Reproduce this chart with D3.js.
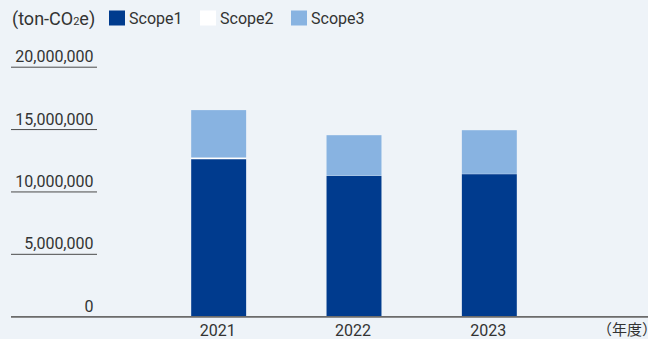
<!DOCTYPE html>
<html>
<head>
<meta charset="utf-8">
<script src="https://cdn.jsdelivr.net/npm/d3@7"></script>
<style>
  html, body { margin: 0; padding: 0; background: #eef3f8; }
  svg { display: block; }
  text { font-family: Roboto, "Noto Sans", sans-serif; fill: #333; }
</style>
</head>
<body>
<svg id="chart" width="648" height="339"></svg>
<script>
// Emissions by scope (ton-CO2e)
const years = ["2021", "2022", "2023"];
const scope1 = [12630000, 11290000, 11430000];
const scope2 = [130000, 20000, 20000];
const scope3 = [3800000, 3240000, 3500000];
const seriesNames = ["Scope1", "Scope2", "Scope3"];
const seriesColors = ["#003b8e", "#ffffff", "#88b3e1"];
const yTicks = [0, 5000000, 10000000, 15000000, 20000000];
const unitLabel = "(ton-CO";
const xUnitLabel = "（年度）";

const svg = d3.select("#chart");
const W = 648, H = 339;

const rows = years.map((y, i) => ({ year: y, Scope1: scope1[i], Scope2: scope2[i], Scope3: scope3[i] }));
const stacked = d3.stack().keys(seriesNames)(rows);

const x = d3.scaleBand().domain(years).range([151, 557]).paddingInner(0.594).paddingOuter(0.297);
const y = d3.scaleLinear().domain([0, 20000000]).range([316.7, 67.2]);
const color = d3.scaleOrdinal().domain(seriesNames).range(seriesColors);
const fmt = d3.format(",");

// Value axis: short rules with labels sitting above them
const grid = svg.append("g");
yTicks.forEach(t => {
  grid.append("line")
    .attr("x1", 11).attr("x2", t === 0 ? W : 97)
    .attr("y1", y(t)).attr("y2", y(t))
    .attr("stroke", t === 0 ? "#6b6b6b" : "#4a4a4a")
    .attr("stroke-width", t === 0 ? 1.5 : 1);
  grid.append("text")
    .attr("x", 93.5).attr("y", y(t) - 5)
    .attr("text-anchor", "end")
    .attr("font-size", 16)
    .text(fmt(t));
});

// Stacked bars
svg.append("g").selectAll("g").data(stacked).join("g")
  .attr("fill", d => color(d.key))
  .selectAll("rect").data(d => d).join("rect")
  .attr("x", d => x(d.data.year))
  .attr("width", x.bandwidth())
  .attr("y", d => y(d[1]))
  .attr("height", d => y(d[0]) - y(d[1]));

// Redraw baseline over the bars
svg.append("line")
  .attr("x1", 11).attr("x2", W)
  .attr("y1", y(0)).attr("y2", y(0))
  .attr("stroke", "#6b6b6b").attr("stroke-width", 1.5);

// Category labels
svg.append("g").selectAll("text").data(years).join("text")
  .attr("x", d => x(d) + x.bandwidth() / 2 - 1)
  .attr("y", 336)
  .attr("text-anchor", "middle")
  .attr("font-size", 16)
  .text(d => d);

svg.append("text")
  .attr("x", 597).attr("y", 335)
  .attr("font-size", 15)
  .style("font-family", "'Noto Sans CJK JP', sans-serif")
  .text(xUnitLabel);

// Unit label and legend
const unit = svg.append("text").attr("x", 12).attr("y", 25).attr("font-size", 18);
unit.append("tspan").text(unitLabel);
unit.append("tspan").attr("font-size", 11).text("2");
unit.append("tspan").text("e)");

const legendX = [109, 200, 291];
const legend = svg.append("g").selectAll("g").data(seriesNames).join("g")
  .attr("transform", (d, i) => `translate(${legendX[i]},0)`);
legend.append("rect")
  .attr("x", 0).attr("y", 10.5).attr("width", 16).attr("height", 15)
  .attr("fill", d => color(d));
legend.append("text")
  .attr("x", 20).attr("y", 24)
  .attr("font-size", 16)
  .text(d => d);
</script>
</body>
</html>
